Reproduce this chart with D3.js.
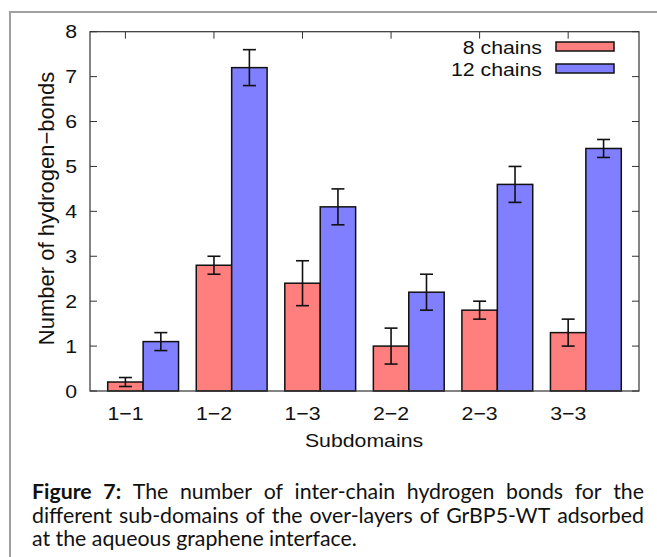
<!DOCTYPE html>
<html><head><meta charset="utf-8">
<script src="https://cdn.jsdelivr.net/npm/d3@7"></script>
<style>body{margin:0;background:#fff}svg{display:block}</style>
</head><body>
<svg id="c" width="657" height="557"></svg>
<script>
const categories = ["1\u22121","1\u22122","1\u22123","2\u22122","2\u22123","3\u22123"];
const seriesNames = ["8 chains","12 chains"];
const chains8 = [0.2, 2.8, 2.4, 1.0, 1.8, 1.3];
const chains8Err = [0.1, 0.2, 0.5, 0.4, 0.2, 0.3];
const chains12 = [1.1, 7.2, 4.1, 2.2, 4.6, 5.4];
const chains12Err = [0.2, 0.4, 0.4, 0.4, 0.4, 0.2];
const yTicks = [0,1,2,3,4,5,6,7,8];
const xLabel = "Subdomains";
const yLabel = "Number of hydrogen\u2212bonds";
const captionLines = [
  [["Figure",1],["7:",1],["The",0],["number",0],["of",0],["inter-chain",0],["hydrogen",0],["bonds",0],["for",0],["the",0]],
  [["different",0],["sub-domains",0],["of",0],["the",0],["over-layers",0],["of",0],["GrBP5-WT",0],["adsorbed",0]],
  [["at",0],["the",0],["aqueous",0],["graphene",0],["interface.",0]]
];

const svg = d3.select("#c");
const colors = ["#ff7f7f","#7f7fff"];
const L=90, R=639, T=31.7, B=391;
const x = d3.scaleLinear().domain([-0.4, 5.8]).range([L, R]);
const y = d3.scaleLinear().domain([0, 8]).range([B, T]);
const bw = x(0.4) - x(0);

// outer frame
svg.append("path").attr("d","M10,557 L10,12 L657,12").attr("fill","none").attr("stroke","#a0a0a0").attr("stroke-width",2);

const font = "'Liberation Sans', Arial, sans-serif";
const axisCol = "#333";
const tl = 7;
const FS = 18.5, SX = 1.15;
function gtext(parent, px, py, anchor, str){
  return parent.append("text").attr("transform",`translate(${px},${py}) scale(${SX},1)`)
    .attr("text-anchor",anchor).attr("font-family",font).attr("font-size",FS).attr("fill","#111").text(str);
}
const g = svg.append("g");

categories.forEach((c,i)=>{
  g.append("line").attr("x1",x(i)).attr("x2",x(i)).attr("y1",B).attr("y2",B-tl).attr("stroke",axisCol);
  g.append("line").attr("x1",x(i)).attr("x2",x(i)).attr("y1",T).attr("y2",T+tl).attr("stroke",axisCol);
  gtext(g, x(i), B+28.5, "middle", c);
});
yTicks.forEach(v=>{
  g.append("line").attr("x1",L).attr("x2",L+tl).attr("y1",y(v)).attr("y2",y(v)).attr("stroke",axisCol);
  g.append("line").attr("x1",R).attr("x2",R-tl).attr("y1",y(v)).attr("y2",y(v)).attr("stroke",axisCol);
  gtext(g, L-13, y(v)+6.6, "end", v);
});

// bars
const series = [[chains8, chains8Err],[chains12, chains12Err]];
series.forEach(([vals, errs], s)=>{
  vals.forEach((v,i)=>{
    const x0 = x(i - 0.2 + s*0.4);
    svg.append("rect").attr("x",x0).attr("y",y(v)).attr("width",bw).attr("height",y(0)-y(v))
      .attr("fill",colors[s]).attr("stroke","#111").attr("stroke-width",1.5);
  });
});
series.forEach(([vals, errs], s)=>{
  vals.forEach((v,i)=>{
    const cx = x(i + s*0.4);
    const lo = y(v-errs[i]), hi = y(v+errs[i]);
    const e = svg.append("g").attr("stroke","#111").attr("stroke-width",1.6);
    e.append("line").attr("x1",cx).attr("x2",cx).attr("y1",lo).attr("y2",hi);
    e.append("line").attr("x1",cx-6.5).attr("x2",cx+6.5).attr("y1",lo).attr("y2",lo);
    e.append("line").attr("x1",cx-6.5).attr("x2",cx+6.5).attr("y1",hi).attr("y2",hi);
  });
});

// border
svg.append("rect").attr("x",L).attr("y",T).attr("width",R-L).attr("height",B-T)
  .attr("fill","none").attr("stroke",axisCol).attr("stroke-width",1.2);

// legend
seriesNames.forEach((n,s)=>{
  const yy = 46.5 + s*22;
  gtext(svg, 542, yy+7.5, "end", n);
  svg.append("rect").attr("x",556).attr("y",yy-4.5).attr("width",58).attr("height",9)
    .attr("fill",colors[s]).attr("stroke","#111").attr("stroke-width",1.5);
});

// axis titles
gtext(svg, 364, 447, "middle", xLabel);
svg.append("text").attr("transform",`translate(53.5,208.5) rotate(-90)`).attr("text-anchor","middle")
  .attr("font-family",font).attr("font-size",22).attr("fill","#111").text(yLabel);

// caption, justified
const capFont = "Lato, 'Open Sans', sans-serif";
const cx0 = 32, cx1 = 644;
const meas = svg.append("text").attr("font-family",capFont).attr("font-size",100).attr("visibility","hidden");
function wlen(w,b,fs){ meas.attr("font-weight",b?"bold":"normal").attr("font-size",fs).text(w); return meas.node().getComputedTextLength(); }
const spW = wlen("a b",0,100)-wlen("ab",0,100);
const l3 = captionLines[2].reduce((a,[w,b])=>a+wlen(w,b,100),0) + spW*(captionLines[2].length-1);
const capFs = 100*325/l3;
const baselines = [499, 522.7, 546.4];
captionLines.forEach((words, li)=>{
  const widths = words.map(([w,b])=>wlen(w,b,capFs));
  const total = d3.sum(widths);
  const gap = li < 2 ? (cx1-cx0-total)/(words.length-1) : spW*capFs/100;
  let xx = cx0;
  words.forEach(([w,b],k)=>{
    svg.append("text").attr("x",xx).attr("y",baselines[li]).attr("font-family",capFont)
      .attr("font-size",capFs).attr("font-weight",b?"bold":"normal").attr("fill","#111").text(w);
    xx += widths[k] + gap;
  });
});
meas.remove();
</script>
</body></html>
